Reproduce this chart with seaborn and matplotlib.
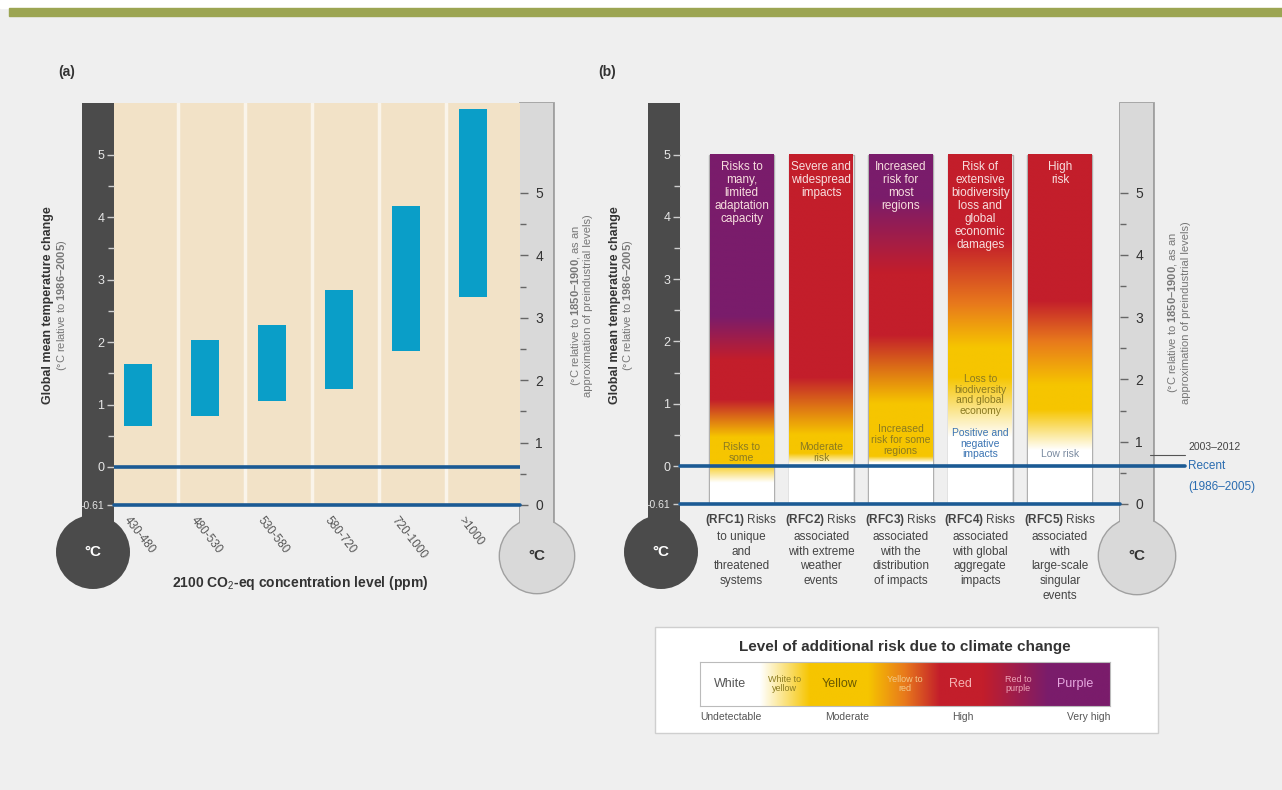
import numpy as np
import matplotlib
matplotlib.use("Agg")
import matplotlib.pyplot as plt
import matplotlib.transforms as mtransforms
from matplotlib.patches import Rectangle, Circle
from matplotlib.ticker import FixedLocator
from matplotlib.colors import to_rgb
from matplotlib import font_manager
import seaborn as sns

# ---- panel (a): projected warming ranges by 2100 CO2-eq level
co2_levels = ["430-480", "480-530", "530-580", "580-720", "720-1000", ">1000"]
warming_low = [0.65, 0.82, 1.06, 1.25, 1.86, 2.72]
warming_high = [1.65, 2.03, 2.27, 2.83, 4.18, 5.74]

# ---- panel (b): reasons for concern
rfc_names = ["RFC1", "RFC2", "RFC3", "RFC4", "RFC5"]
rfc_labels = [
    "$\\bf{(RFC1)}$ Risks\nto unique\nand\nthreatened\nsystems",
    "$\\bf{(RFC2)}$ Risks\nassociated\nwith extreme\nweather\nevents",
    "$\\bf{(RFC3)}$ Risks\nassociated\nwith the\ndistribution\nof impacts",
    "$\\bf{(RFC4)}$ Risks\nassociated\nwith global\naggregate\nimpacts",
    "$\\bf{(RFC5)}$ Risks\nassociated\nwith\nlarge-scale\nsingular\nevents",
]
rfc_top_text = [
    "Risks to\nmany,\nlimited\nadaptation\ncapacity",
    "Severe and\nwidespread\nimpacts",
    "Increased\nrisk for\nmost\nregions",
    "Risk of\nextensive\nbiodiversity\nloss and\nglobal\neconomic\ndamages",
    "High\nrisk",
]
rfc_low_text = ["Risks to\nsome", "Moderate\nrisk", "Increased\nrisk for some\nregions",
                "Loss to\nbiodiversity\nand global\neconomy", "Low risk"]
rfc_low_y = [0.22, 0.22, 0.42, 1.14, 0.2]
rfc4_extra_text = "Positive and\nnegative\nimpacts"
rfc4_extra_y = 0.36
rfc_bottom = -0.61
rfc_top = 5.0

# risk colour along the temperature axis (value, colour name)
rfc1_stops = [(-0.61, "white"), (-0.27, "white"), (0.05, "yellow"), (0.46, "yellow"),
              (1.06, "red"), (1.7, "red"), (2.4, "purple"), (5.0, "purple")]
rfc2_stops = [(-0.61, "white"), (0.02, "white"), (0.2, "yellow"), (0.5, "yellow"),
              (1.42, "red"), (5.0, "red")]
rfc3_stops = [(-0.61, "white"), (0.05, "white"), (0.15, "yellow"), (1.0, "yellow"),
              (2.1, "red"), (3.1, "red"), (4.3, "purple"), (5.0, "purple")]
rfc4_stops = [(-0.61, "white"), (0.46, "white"), (1.42, "yellow"), (1.9, "yellow"),
              (2.6, "orange"), (3.6, "red"), (5.0, "red")]
rfc5_stops = [(-0.61, "white"), (0.25, "white"), (0.9, "yellow"), (1.3, "yellow"),
              (2.0, "orange"), (2.65, "red"), (5.0, "red")]
rfc_stops = [rfc1_stops, rfc2_stops, rfc3_stops, rfc4_stops, rfc5_stops]

recent_warming_pre = 0.78  # 2003-2012 relative to 1850-1900
offset_pre = 0.61

# legend scale
legend_stops = [(0.0, "white"), (0.146, "white"), (0.268, "yellow"), (0.41, "yellow"),
                (0.5, "orange"), (0.585, "red"), (0.69, "red"), (0.85, "purple"), (1.0, "purple")]
legend_names = ["White", "White to\nyellow", "Yellow", "Yellow to\nred", "Red", "Red to\npurple", "Purple"]
legend_pos = [0.073, 0.207, 0.341, 0.5, 0.634, 0.776, 0.915]
legend_levels = ["Undetectable", "Moderate", "High", "Very high"]
legend_level_pos = [0.0, 0.358, 0.64, 1.0]

risk_colors = {"white": "#ffffff", "yellow": "#f6c500", "orange": "#e8791c",
               "red": "#c31e2b", "purple": "#7a1c6b"}

sns.set_theme(style="white")
names = {f.name for f in font_manager.fontManager.ttflist}
base = "Liberation Sans Narrow" if "Liberation Sans Narrow" in names else "Liberation Sans"
plt.rcParams["font.family"] = [base, "DejaVu Sans"]
plt.rcParams["mathtext.fontset"] = "custom"
plt.rcParams["mathtext.rm"] = base
plt.rcParams["mathtext.bf"] = base + ":bold"

W, H = 1282, 790


def rect(x0, y0, x1, y1):
    return [x0 / W, 1 - y1 / H, (x1 - x0) / W, (y1 - y0) / H]


def gradient(stops, grid):
    vals = [s[0] for s in stops]
    cols = np.array([to_rgb(risk_colors[s[1]]) for s in stops])
    return np.stack([np.interp(grid, vals, cols[:, k]) for k in range(3)], axis=-1)


fig = plt.figure(figsize=(12.82, 7.90), dpi=100, facecolor="#efefef")
bg = fig.add_axes([0, 0, 1, 1], zorder=-5)
bg.set_xlim(0, W)
bg.set_ylim(H, 0)
bg.axis("off")
bg.add_patch(Rectangle((0, 0), W, 8, color="white"))
bg.add_patch(Rectangle((9, 8), W - 9, 8, color="#9ca552"))


def thermo(x0, x1, ytop, cx, cy, r, dark):
    if dark:
        bg.add_patch(Rectangle((x0, ytop), x1 - x0, cy - ytop, color="#4b4b4b", lw=0))
        bg.add_patch(Circle((cx, cy), r, color="#4b4b4b", lw=0))
        bg.text(cx, cy, "°C", color="white", fontsize=11, fontweight="bold", ha="center", va="center")
    else:
        bg.add_patch(Rectangle((x0, ytop), x1 - x0, cy - ytop, fc="#a0a0a0", ec="#a0a0a0", lw=2.0))
        bg.add_patch(Circle((cx, cy), r, fc="#a0a0a0", ec="#a0a0a0", lw=2.0))
        bg.add_patch(Rectangle((x0, ytop), x1 - x0, cy - ytop, color="#d9d9d9", lw=0))
        bg.add_patch(Circle((cx, cy), r, color="#d9d9d9", lw=0))
        bg.text(cx, cy, "°C", color="#333333", fontsize=11, fontweight="bold", ha="center", va="center")


thermo(82, 114, 103, 93, 552, 37, True)
thermo(520, 553, 103, 537, 556, 37, False)
thermo(648, 680, 103, 661, 552, 37, True)
thermo(1120, 1153, 103, 1137, 556, 38, False)

# legend frame
bg.add_patch(Rectangle((655, 627), 503, 106, fc="white", ec="#cfcfcf", lw=1))

ylim = (-0.61, 5.83)
left_ticks = [-0.61, 0, 1, 2, 3, 4, 5]
left_labels = ["-0.61", "0", "1", "2", "3", "4", "5"]
minor_ticks = [0.5, 1.5, 2.5, 3.5, 4.5]


def style_axes(ax):
    for s in ax.spines.values():
        s.set_visible(False)
    ax.set_xlabel("")
    ax.set_ylabel("")
    ax.set_yticks(left_ticks)
    ax.set_yticklabels(left_labels)
    ax.yaxis.set_minor_locator(FixedLocator(minor_ticks))
    ax.tick_params(axis="y", which="major", direction="out", length=5, width=1, color="#cfcfcf",
                   labelcolor="#e6e6e6", labelsize=9, pad=2, left=True)
    ax.tick_params(axis="y", which="minor", direction="out", length=4, width=1, color="#cfcfcf", left=True)
    ax.get_yticklabels()[0].set_fontsize(7.5)
    sec = ax.secondary_yaxis("right", functions=(lambda y: y + offset_pre, lambda y: y - offset_pre))
    sec.set_yticks([0, 1, 2, 3, 4, 5])
    sec.yaxis.set_minor_locator(FixedLocator(minor_ticks))
    sec.tick_params(axis="y", which="major", direction="out", length=6, width=1, color="#666666",
                    labelcolor="#333333", labelsize=10, pad=5)
    sec.tick_params(axis="y", which="minor", direction="out", length=4, width=1, color="#666666")
    for s in sec.spines.values():
        s.set_visible(False)
    ax.axhline(0, color="#1b5a94", lw=2.6, zorder=6)
    ax.axhline(-0.61, color="#1b5a94", lw=2.6, zorder=6, clip_on=False)


# ---- panel (a)
ax_a = fig.add_axes(rect(114, 103, 520, 505))
ax_a.set_facecolor("#f2e2c7")
heights_a = [h - l for h, l in zip(warming_high, warming_low)]
sns.barplot(x=co2_levels, y=heights_a, bottom=warming_low, color="#0a9ec8", saturation=1,
            width=0.42, errorbar=None, linewidth=0, ax=ax_a, zorder=3)
for i in range(5):
    ax_a.axvline(i + 0.6, color="#faf4ea", lw=2.5, zorder=1)
ax_a.set_xlim(-0.358, 5.70)
ax_a.set_ylim(*ylim)
style_axes(ax_a)
ax_a.tick_params(axis="x", length=0, labelsize=8.5, labelcolor="#555555")
shift = mtransforms.ScaledTranslation(-12 / 100, -8 / 100, fig.dpi_scale_trans)
for lab in ax_a.get_xticklabels():
    lab.set_rotation(-52)
    lab.set_ha("left")
    lab.set_va("center")
    lab.set_rotation_mode("anchor")
    lab.set_transform(lab.get_transform() + shift)

# ---- panel (b)
ax_b = fig.add_axes(rect(680, 103, 1120, 504))
ax_b.patch.set_alpha(0)
sns.barplot(x=rfc_names, y=[rfc_top - rfc_bottom] * 5, bottom=rfc_bottom, color="#b0b0b0",
            facecolor="none", edgecolor="#b0b0b0", linewidth=1.0, width=0.817,
            errorbar=None, ax=ax_b, zorder=1)
grid = np.linspace(rfc_bottom, rfc_top, 400)
for patch, stops in zip(ax_b.patches, rfc_stops):
    img = gradient(stops, grid)[:, None, :]
    x0 = patch.get_x() + 0.008
    x1 = patch.get_x() + patch.get_width() - 0.008
    ax_b.imshow(img, origin="lower", aspect="auto", zorder=2, interpolation="bilinear",
                extent=(x0, x1, rfc_bottom, rfc_top))
ax_b.set_xlim(-0.773, 4.755)
ax_b.set_ylim(*ylim)
style_axes(ax_b)
ax_b.lines[0].set_xdata([0, (1185 - 680) / 440])
ax_b.lines[0].set_clip_on(False)
ax_b.set_xticks(range(5))
ax_b.set_xticklabels(rfc_labels, fontsize=8.5, color="#444444", linespacing=1.3, va="top")
ax_b.tick_params(axis="x", length=0, pad=6)

for i, t in enumerate(rfc_top_text):
    ax_b.text(i, rfc_top - 0.1, t, ha="center", va="top", fontsize=8.5, color="#f7dede",
              linespacing=1.12, zorder=5)
for i, (t, y) in enumerate(zip(rfc_low_text, rfc_low_y)):
    col = "#7a8aa0" if i == 4 else "#8a7a22"
    ax_b.text(i, y, t, ha="center", va="center", fontsize=7.5, color=col, linespacing=1.1, zorder=5)
ax_b.text(3, rfc4_extra_y, rfc4_extra_text, ha="center", va="center", fontsize=7.5,
          color="#3b74b3", linespacing=1.1, zorder=5)

trans = mtransforms.blended_transform_factory(ax_b.transAxes, ax_b.transData)
y_recent = recent_warming_pre - offset_pre
ax_b.plot([1.068, 1.148], [y_recent, y_recent], color="#555555", lw=0.8, transform=trans, clip_on=False)
ax_b.text(1.155, y_recent + 0.05, "2003–2012", transform=trans, fontsize=7.5, color="#444444",
          va="bottom", ha="left")
ax_b.text(1.155, 0, "Recent", transform=trans, fontsize=8.5, color="#2a6cb0", va="center", ha="left")
ax_b.text(1.155, -0.34, "(1986–2005)", transform=trans, fontsize=8.5, color="#2a6cb0", va="center", ha="left")

# ---- legend scale
ax_l = fig.add_axes(rect(700, 662, 1110, 706))
lx = np.linspace(0, 1, 400)
vals = [s[0] for s in legend_stops]
cols = np.array([to_rgb(risk_colors[s[1]]) for s in legend_stops])
limg = np.stack([np.interp(lx, vals, cols[:, k]) for k in range(3)], axis=-1)[None, :, :]
ax_l.imshow(limg, aspect="auto", extent=(0, 1, 0, 1), interpolation="bilinear")
ax_l.set_xlim(0, 1)
ax_l.set_ylim(0, 1)
ax_l.set_xticks([])
ax_l.set_yticks([])
for s in ax_l.spines.values():
    s.set_color("#bbbbbb")
    s.set_linewidth(0.8)
name_colors = ["#555555", "#8c7c20", "#6b5a00", "#f3c98a", "#f5b3b3", "#efa5b8", "#e6a8df"]
for name, xp, c in zip(legend_names, legend_pos, name_colors):
    fs = 6.5 if "\n" in name else 9
    ax_l.text(xp, 0.5, name, ha="center", va="center", fontsize=fs, color=c, linespacing=1.0)
for lev, xp in zip(legend_levels, legend_level_pos):
    ha = "left" if xp == 0 else ("right" if xp == 1 else "center")
    ax_l.text(xp, -0.25, lev, ha=ha, va="center", fontsize=7.5, color="#555555")
fig.text(905 / W, 1 - 647 / H, "Level of additional risk due to climate change", ha="center",
         va="center", fontsize=11, fontweight="bold", color="#333333")

# ---- panel titles and axis texts
fig.text(58 / W, 1 - 72 / H, "(a)", fontsize=10, fontweight="bold", color="#333333", va="center")
fig.text(598 / W, 1 - 72 / H, "(b)", fontsize=10, fontweight="bold", color="#333333", va="center")
fig.text(300 / W, 1 - 583 / H, "2100 CO$_2$-eq concentration level (ppm)", ha="center", va="center",
         fontsize=10, fontweight="bold", color="#333333")
for x1, x2 in [(48, 62), (615, 628)]:
    fig.text(x1 / W, 1 - 305 / H, "Global mean temperature change", rotation=90, ha="center",
             va="center", fontsize=9, fontweight="bold", color="#333333")
    fig.text(x2 / W, 1 - 305 / H, "(°C relative to $\\bf{1986–2005}$)", rotation=90, ha="center",
             va="center", fontsize=8, color="#777777")
for x1, x2, yc in [(576, 588, 306), (1173, 1186, 313)]:
    fig.text(x1 / W, 1 - yc / H, "(°C relative to $\\bf{1850–1900}$, as an", rotation=90, ha="center",
             va="center", fontsize=8, color="#777777")
    fig.text(x2 / W, 1 - yc / H, "approximation of preindustrial levels)", rotation=90, ha="center",
             va="center", fontsize=8, color="#777777")

fig.savefig("out.png", dpi=100, facecolor=fig.get_facecolor())
